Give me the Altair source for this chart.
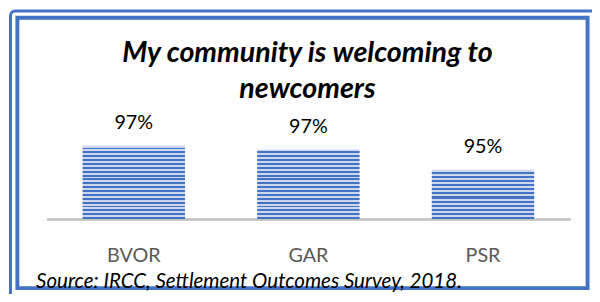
import altair as alt
import pandas as pd

categories = ["BVOR", "GAR", "PSR"]
values = [97.6, 97.2, 95.1]
labels = ["97%", "97%", "95%"]
title_lines = ["My community is welcoming to", "newcomers"]
source = "Source: IRCC, Settlement Outcomes Survey, 2018."

df = pd.DataFrame({"cat": categories, "val": values, "lab": labels})

FONT = "Lato"
BLUE = "#4472C4"
LIGHT = "#CDD8EE"
Y_MIN, Y_MAX = 90, 100
Y_RANGE = [204, 106]
PX_PER_UNIT = (Y_RANGE[0] - Y_RANGE[1]) / (Y_MAX - Y_MIN)

xscale = alt.Scale(domain=categories, range=[29.5, 560.5], paddingInner=0.413, paddingOuter=0.2065)
yscale = alt.Scale(domain=[Y_MIN, Y_MAX], range=Y_RANGE, zero=False, nice=False)


def stripes(val, period=4.0):
    h = (val - Y_MIN) * PX_PER_UNIT
    n = max(1, round(h / period))
    stops = []
    for i in range(n):
        a, m, b = i / n, (i + 0.5) / n, (i + 1) / n
        stops += [
            alt.GradientStop(offset=a, color=LIGHT),
            alt.GradientStop(offset=m, color=LIGHT),
            alt.GradientStop(offset=m, color=BLUE),
            alt.GradientStop(offset=b, color=BLUE),
        ]
    return alt.Gradient(gradient="linear", x1=0, y1=0, x2=0, y2=1, stops=stops)


base = alt.Chart(df)

bars = []
for c, v in zip(categories, values):
    bars.append(
        base.transform_filter(alt.datum.cat == c)
        .mark_bar(color=stripes(v))
        .encode(
            x=alt.X("cat:N", scale=xscale, sort=categories,
                    axis=alt.Axis(title=source, titleFontStyle="italic", titleFontWeight="normal",
                                  titleFont=FONT, titleFontSize=20.8, titleColor="#000000",
                                  titleX=18.5, titleY=69, titleAlign="left", titleAnchor="start",
                                  titleBaseline="alphabetic",
                                  labelFont=FONT, labelFontSize=20, labelColor="#595959",
                                  labelPadding=27, labelAngle=0, ticks=False,
                                  domainColor="#BFBFBF", domainWidth=2.5, offset=-70)),
            y=alt.Y("val:Q", scale=yscale, axis=None),
            y2=alt.datum(Y_MIN),
        )
    )

text = base.mark_text(font=FONT, fontSize=20, color="#000000", dy=-17, baseline="alphabetic").encode(
    x=alt.X("cat:N", scale=xscale, sort=categories),
    y=alt.Y("val:Q", scale=yscale),
    text="lab:N",
)

outer = alt.Chart(pd.DataFrame({"k": [0]})).mark_rect(
    fill=None, stroke=BLUE, strokeWidth=3, cornerRadius=5
).encode(x=alt.value(-7), y=alt.value(-7), x2=alt.value(640), y2=alt.value(340))

chart = alt.layer(outer, *bars, text).properties(
    width=578, height=274,
    title=alt.Title(title_lines, font=FONT, fontSize=29, fontStyle="italic", fontWeight="bold",
                    color="#000000", anchor="middle", offset=-96, lineHeight=37, dx=5),
    padding={"left": 9.5, "top": 8, "right": 4.5, "bottom": 4},
    autosize=alt.AutoSizeParams(type="none"),
).configure_view(stroke=BLUE, strokeWidth=4)

chart.save("out.html", embed_options={"renderer": "svg", "actions": False})
